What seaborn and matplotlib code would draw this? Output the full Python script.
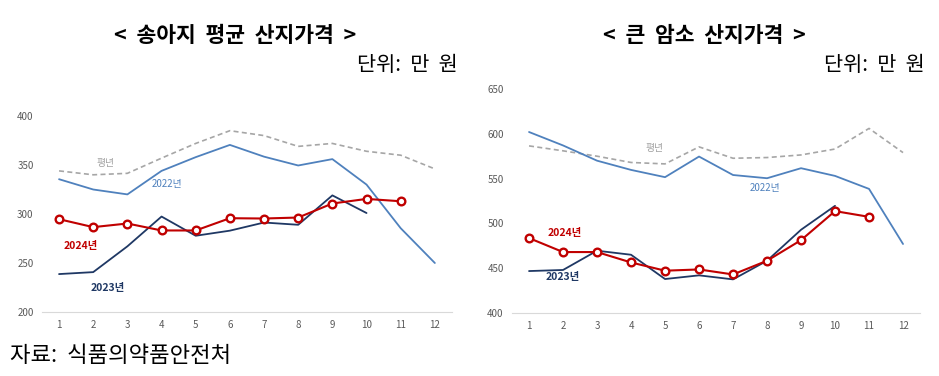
import numpy as np
import pandas as pd
import matplotlib
matplotlib.use("Agg")
import matplotlib.pyplot as plt
import seaborn as sns

sns.set_theme(style="white")
plt.rcParams['font.family'] = ['Noto Sans CJK KR', 'DejaVu Sans']

months = list(range(1, 13))

# 송아지 평균 산지가격 (만 원)
calf_avg = [344, 340, 341.5, 357, 372, 385, 380, 369, 372, 364, 360, 346]
calf_2022 = [335.5, 325, 320, 344, 358, 370.5, 358.5, 349.5, 356, 330, 285.5, 250]
calf_2023 = [238.7, 240.7, 267, 297.4, 277.8, 283, 291.3, 289, 319, 301]
calf_2024 = [294.7, 286.6, 290.3, 283.2, 283.2, 295.7, 295.4, 296.4, 310.7, 315.4, 313]

# 큰 암소 산지가격 (만 원)
cow_avg = [586.5, 581, 575, 568, 566.4, 585.4, 572.7, 573.5, 576.4, 583, 606, 579]
cow_2022 = [602, 587, 570, 559.7, 551.6, 574.6, 554, 550.4, 561.6, 553, 538.5, 477]
cow_2023 = [446.8, 448, 469.5, 465, 437.9, 442, 437.5, 458.3, 492.9, 519.6]
cow_2024 = [483.6, 468, 468, 456.4, 447.2, 448.6, 443, 458.3, 481.3, 513.7, 507.3]

titles = ["<  송아지  평균  산지가격  >", "<  큰  암소  산지가격  >"]
unit_label = "단위:  만  원"
source_label = "자료:  식품의약품안전처"

C_AVG = "#A6A6A6"
C_2022 = "#4F81BD"
C_2023 = "#1F3864"
C_2024 = "#C00000"


def draw(ax, avg, y22, y23, y24, ylim, yticks, labels_pos):
    d_avg = pd.DataFrame({"m": months[:len(avg)], "v": avg})
    d22 = pd.DataFrame({"m": months[:len(y22)], "v": y22})
    d23 = pd.DataFrame({"m": months[:len(y23)], "v": y23})
    d24 = pd.DataFrame({"m": months[:len(y24)], "v": y24})
    sns.lineplot(data=d_avg, x="m", y="v", ax=ax, color=C_AVG, lw=1.2,
                 linestyle=(0, (3, 2)))
    sns.lineplot(data=d22, x="m", y="v", ax=ax, color=C_2022, lw=1.3)
    sns.lineplot(data=d23, x="m", y="v", ax=ax, color=C_2023, lw=1.3)
    sns.lineplot(data=d24, x="m", y="v", ax=ax, color=C_2024, lw=1.5,
                 marker="o", markersize=5.5, markerfacecolor="white",
                 markeredgecolor=C_2024, markeredgewidth=1.7)
    ax.set_xlim(0.5, 12.5)
    ax.set_ylim(*ylim)
    ax.set_xticks(months)
    ax.set_yticks(yticks)
    ax.tick_params(axis="both", labelsize=7, labelcolor="#595959", length=0, pad=6)
    for s in ["top", "right", "left"]:
        ax.spines[s].set_visible(False)
    ax.spines["bottom"].set_color("#D9D9D9")
    ax.spines["bottom"].set_linewidth(0.8)
    ax.set_xlabel("")
    ax.set_ylabel("")
    ax.grid(False)
    (p_avg, p22, p24, p23) = labels_pos
    ax.text(*p_avg, "평년", color="#A0A0A0", fontsize=7, ha="center", va="center")
    ax.text(*p22, "2022년", color=C_2022, fontsize=7, ha="center", va="center")
    ax.text(*p24, "2024년", color=C_2024, fontsize=7.5, fontweight="bold", ha="center", va="center")
    ax.text(*p23, "2023년", color=C_2023, fontsize=7.5, fontweight="bold", ha="center", va="center")


fig = plt.figure(figsize=(9.39, 3.76), dpi=100)
ax1 = fig.add_axes([0.0447, 0.1702, 0.4366, 0.5213])
ax2 = fig.add_axes([0.5453, 0.1676, 0.4345, 0.5957])

draw(ax1, calf_avg, calf_2022, calf_2023, calf_2024, (200, 400),
     [200, 250, 300, 350, 400],
     [(2.37, 352), (4.16, 330.6), (1.62, 267.3), (2.42, 224.5)])
draw(ax2, cow_avg, cow_2022, cow_2023, cow_2024, (400, 650),
     [400, 450, 500, 550, 600, 650],
     [(4.68, 584), (7.93, 539.5), (2.04, 489.3), (1.99, 440)])

fig.text(235 / 939, 1 - 35 / 376, titles[0], fontsize=15.5, fontweight="bold",
         color="black", ha="center", va="center")
fig.text(704 / 939, 1 - 35 / 376, titles[1], fontsize=15.5, fontweight="bold",
         color="black", ha="center", va="center")
fig.text(458 / 939, 1 - 65 / 376, unit_label, fontsize=15, color="black",
         ha="right", va="center")
fig.text(925 / 939, 1 - 65 / 376, unit_label, fontsize=15, color="black",
         ha="right", va="center")
fig.text(10 / 939, 1 - 355 / 376, source_label, fontsize=16, color="black",
         ha="left", va="center")

fig.savefig("out.png", dpi=100)
